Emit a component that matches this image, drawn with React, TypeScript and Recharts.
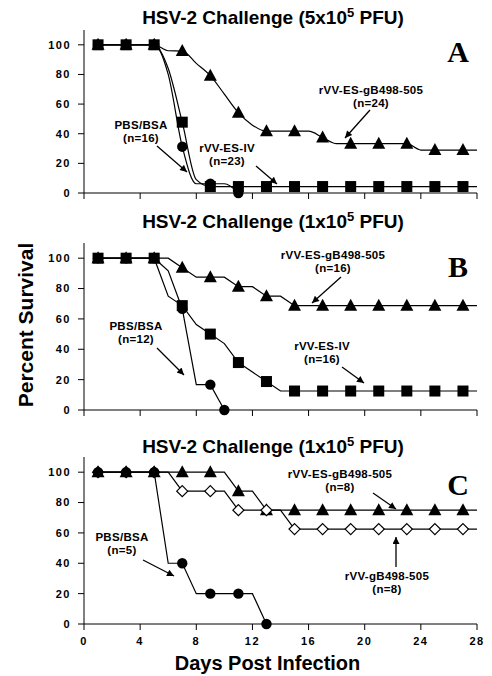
import React from "react";
import { LineChart, Line, XAxis, YAxis } from "recharts";

// day of observation
const days = [1, 2, 3, 4, 5, 6, 7, 8, 9, 10, 11, 12, 13, 14, 15, 16, 17, 18, 19, 20, 21, 22, 23, 24, 25, 26, 27, 28];

// Panel A - 5x10^5 PFU
const aEsGb = [100, 100, 100, 100, 100, 96, 95.8, 87.5, 79.2, 66.7, 54.2, 45.8, 41.7, 41.7, 41.7, 41.7, 37.5, 33.3, 33.3, 33.3, 33.3, 33.3, 33.3, 29, 29, 29, 29, 29];
const aEsIv = [100, 100, 100, 100, 100, 84, 47.8, 9, 4.35, 4.35, 4.35, 4.35, 4.35, 4.35, 4.35, 4.35, 4.35, 4.35, 4.35, 4.35, 4.35, 4.35, 4.35, 4.35, 4.35, 4.35, 4.35, 4.35];
const aPbs = [100, 100, 100, 100, 100, 80, 31.25, 6.25, 6.25, 6.25, 0, null, null, null, null, null, null, null, null, null, null, null, null, null, null, null, null, null];

// Panel B - 1x10^5 PFU
const bEsGb = [100, 100, 100, 100, 100, 100, 93.75, 87.5, 87.5, 87.5, 81.25, 81.25, 75, 75, 68.75, 68.75, 68.75, 68.75, 68.75, 68.75, 68.75, 68.75, 68.75, 68.75, 68.75, 68.75, 68.75, 68.75];
const bEsIv = [100, 100, 100, 100, 100, 75, 68.75, 56.25, 50, 43.75, 31.25, 25, 18.75, 12.5, 12.5, 12.5, 12.5, 12.5, 12.5, 12.5, 12.5, 12.5, 12.5, 12.5, 12.5, 12.5, 12.5, 12.5];
const bPbs = [100, 100, 100, 100, 100, 91.7, 66.7, 16.7, 16.7, 0, null, null, null, null, null, null, null, null, null, null, null, null, null, null, null, null, null, null];

// Panel C - 1x10^5 PFU
const cEsGb = [100, 100, 100, 100, 100, 100, 100, 100, 100, 100, 87.5, 87.5, 75, 75, 75, 75, 75, 75, 75, 75, 75, 75, 75, 75, 75, 75, 75, 75];
const cGb = [100, 100, 100, 100, 100, 100, 87.5, 87.5, 87.5, 87.5, 75, 75, 75, 75, 62.5, 62.5, 62.5, 62.5, 62.5, 62.5, 62.5, 62.5, 62.5, 62.5, 62.5, 62.5, 62.5, 62.5];
const cPbs = [100, 100, 100, 100, 100, 40, 40, 20, 20, 20, 20, 20, 0, null, null, null, null, null, null, null, null, null, null, null, null, null, null, null];

const xTicks = [0, 4, 8, 12, 16, 20, 24, 28];
const yTicks = [0, 20, 40, 60, 80, 100];

const FONT = "'Liberation Sans', Arial, Helvetica, sans-serif";
const tickStyle = { fontFamily: FONT, fontWeight: 700, fontSize: 11, fill: "#000", letterSpacing: 1.5 };

type Shape = "triangle" | "square" | "circle" | "diamond";

const makeDot = (shape: Shape) => (props: any) => {
  const { cx, cy, payload, value, index } = props;
  const key = `${shape}-${index}`;
  if (cx == null || cy == null || value == null) return <g key={key} />;
  if (payload.day % 2 === 0 && value !== 0) return <g key={key} />;
  if (shape === "triangle")
    return <polygon key={key} points={`${cx},${cy - 7} ${cx - 6.5},${cy + 5} ${cx + 6.5},${cy + 5}`} fill="#000" />;
  if (shape === "square")
    return <rect key={key} x={cx - 5.5} y={cy - 5.5} width={11} height={11} fill="#000" />;
  if (shape === "circle") return <circle key={key} cx={cx} cy={cy} r={5.2} fill="#000" />;
  return (
    <polygon key={key} points={`${cx},${cy - 5.5} ${cx + 5.5},${cy} ${cx},${cy + 5.5} ${cx - 5.5},${cy}`} fill="#fff" stroke="#000" strokeWidth={1.2} />
  );
};

interface SeriesDef {
  key: string;
  values: (number | null)[];
  shape: Shape;
}

function Panel(props: { series: SeriesDef[]; top: number; plotHeight: number; bottomAxis: boolean; curve: "monotone" | "linear" }) {
  const { series, top, plotHeight, bottomAxis, curve } = props;
  const data = days.map((day, i) => {
    const row: any = { day };
    series.forEach((s) => (row[s.key] = s.values[i]));
    return row;
  });
  const axisH = bottomAxis ? 52 : 10;
  return (
    <div style={{ position: "absolute", left: 0, top }}>
      <LineChart width={492} height={plotHeight + axisH} data={data} margin={{ top: 0, right: 15, bottom: 0, left: 0 }}>
        <XAxis
          dataKey="day"
          type="number"
          domain={[0, 28]}
          ticks={xTicks}
          height={axisH}
          tickSize={6}
          tickMargin={7}
          stroke="#000"
          tick={tickStyle}
          tickFormatter={(v) => (bottomAxis ? String(v) : "")}
          label={
            bottomAxis
              ? { value: "Days Post Infection", position: "insideBottom", offset: 6, dx: -13, style: { fontFamily: FONT, fontWeight: 700, fontSize: 20, fill: "#000" } }
              : undefined
          }
        />
        <XAxis xAxisId="top" dataKey="day" type="number" domain={[0, 28]} orientation="top" height={0} tick={false} tickLine={false} stroke="#777" />
        <YAxis type="number" domain={[0, 110]} ticks={yTicks} width={84} tickSize={6} tickMargin={7} stroke="#000" tick={tickStyle} />
        <YAxis yAxisId="right" type="number" domain={[0, 110]} orientation="right" width={0} tick={false} tickLine={false} stroke="#555" />
        {series.map((s) => (
          <Line
            key={s.key}
            dataKey={s.key}
            type={curve}
            stroke="#000"
            strokeWidth={1.2}
            dot={makeDot(s.shape)}
            activeDot={false}
            isAnimationActive={false}
          />
        ))}
      </LineChart>
    </div>
  );
}

const Arrow = ({ x1, y1, x2, y2 }: { x1: number; y1: number; x2: number; y2: number }) => (
  <line x1={x1} y1={y1} x2={x2} y2={y2} stroke="#000" strokeWidth={1.3} markerEnd="url(#ah)" />
);

// two-line annotation, second line 13px below the first
const Note = ({ x, y, lines }: { x: number; y: number; lines: string[] }) => (
  <g>
    {lines.map((t, i) => (
      <text key={i} x={x} y={y + i * 13} textAnchor="middle" fontFamily={FONT} fontWeight={700} fontSize={11.5} letterSpacing={0.3} fill="#000">
        {t}
      </text>
    ))}
  </g>
);

const Title = ({ y, base }: { y: number; base: string }) => (
  <text x={273} y={y} textAnchor="middle" fontFamily={FONT} fontWeight={700} fontSize={19} fill="#000">
    {`HSV-2 Challenge (${base}x10`}
    <tspan fontSize={13} dy={-7}>5</tspan>
    <tspan dy={7}>{" PFU)"}</tspan>
  </text>
);

const PanelLetter = ({ y, t }: { y: number; t: string }) => (
  <text x={458} y={y} textAnchor="middle" fontFamily="'Liberation Serif', 'Times New Roman', serif" fontWeight={700} fontSize={30} fill="#000">
    {t}
  </text>
);

export default function App() {
  return (
    <div style={{ position: "absolute", left: 0, top: 0, width: 492, height: 676, background: "#fff", overflow: "hidden" }}>
      <Panel
        top={30}
        plotHeight={163}
        bottomAxis={false}
        curve="monotone"
        series={[
          { key: "esgb", values: aEsGb, shape: "triangle" },
          { key: "pbs", values: aPbs, shape: "circle" },
          { key: "esiv", values: aEsIv, shape: "square" },
        ]}
      />
      <Panel
        top={243}
        plotHeight={167}
        bottomAxis={false}
        curve="linear"
        series={[
          { key: "esgb", values: bEsGb, shape: "triangle" },
          { key: "pbs", values: bPbs, shape: "circle" },
          { key: "esiv", values: bEsIv, shape: "square" },
        ]}
      />
      <Panel
        top={457}
        plotHeight={167}
        bottomAxis={true}
        curve="linear"
        series={[
          { key: "esgb", values: cEsGb, shape: "triangle" },
          { key: "gb", values: cGb, shape: "diamond" },
          { key: "pbs", values: cPbs, shape: "circle" },
        ]}
      />
      <svg width={492} height={676} style={{ position: "absolute", left: 0, top: 0, pointerEvents: "none" }}>
        <defs>
          <marker id="ah" viewBox="0 0 10 10" refX="10" refY="5" markerWidth="10" markerHeight="7" orient="auto" markerUnits="userSpaceOnUse">
            <path d="M0,0 L10,5 L0,10 z" fill="#000" />
          </marker>
        </defs>
        <Title y={24} base="5" />
        <Title y={228} base="1" />
        <Title y={453} base="1" />
        <PanelLetter y={62} t="A" />
        <PanelLetter y={277} t="B" />
        <PanelLetter y={495} t="C" />
        <text x={33} y={325} transform="rotate(-90 33 325)" textAnchor="middle" fontFamily={FONT} fontWeight={700} fontSize={21} fill="#000">
          Percent Survival
        </text>

        {/* panel A notes */}
        <Note x={371} y={94} lines={["rVV-ES-gB498-505", "(n=24)"]} />
        <Arrow x1={370} y1={110} x2={345} y2={138} />
        <Note x={141} y={129} lines={["PBS/BSA", "(n=16)"]} />
        <Arrow x1={157} y1={146} x2={187} y2={172} />
        <Note x={227} y={152} lines={["rVV-ES-IV", "(n=23)"]} />
        <Arrow x1={256} y1={166} x2={277} y2={184} />

        {/* panel B notes */}
        <Note x={333} y={259} lines={["rVV-ES-gB498-505", "(n=16)"]} />
        <Arrow x1={341} y1={277} x2={312} y2={303} />
        <Note x={136} y={330} lines={["PBS/BSA", "(n=12)"]} />
        <Arrow x1={157} y1={348} x2={184} y2={375} />
        <Note x={322} y={350} lines={["rVV-ES-IV", "(n=16)"]} />
        <Arrow x1={342} y1={367} x2={364} y2={383} />

        {/* panel C notes */}
        <Note x={340} y={478} lines={["rVV-ES-gB498-505", "(n=8)"]} />
        <Arrow x1={373} y1={493} x2={396} y2={509} />
        <Note x={122} y={541} lines={["PBS/BSA", "(n=5)"]} />
        <Arrow x1={143} y1={560} x2={174} y2={576} />
        <Note x={387} y={580} lines={["rVV-gB498-505", "(n=8)"]} />
        <Arrow x1={396} y1={567} x2={396} y2={537} />
      </svg>
    </div>
  );
}
